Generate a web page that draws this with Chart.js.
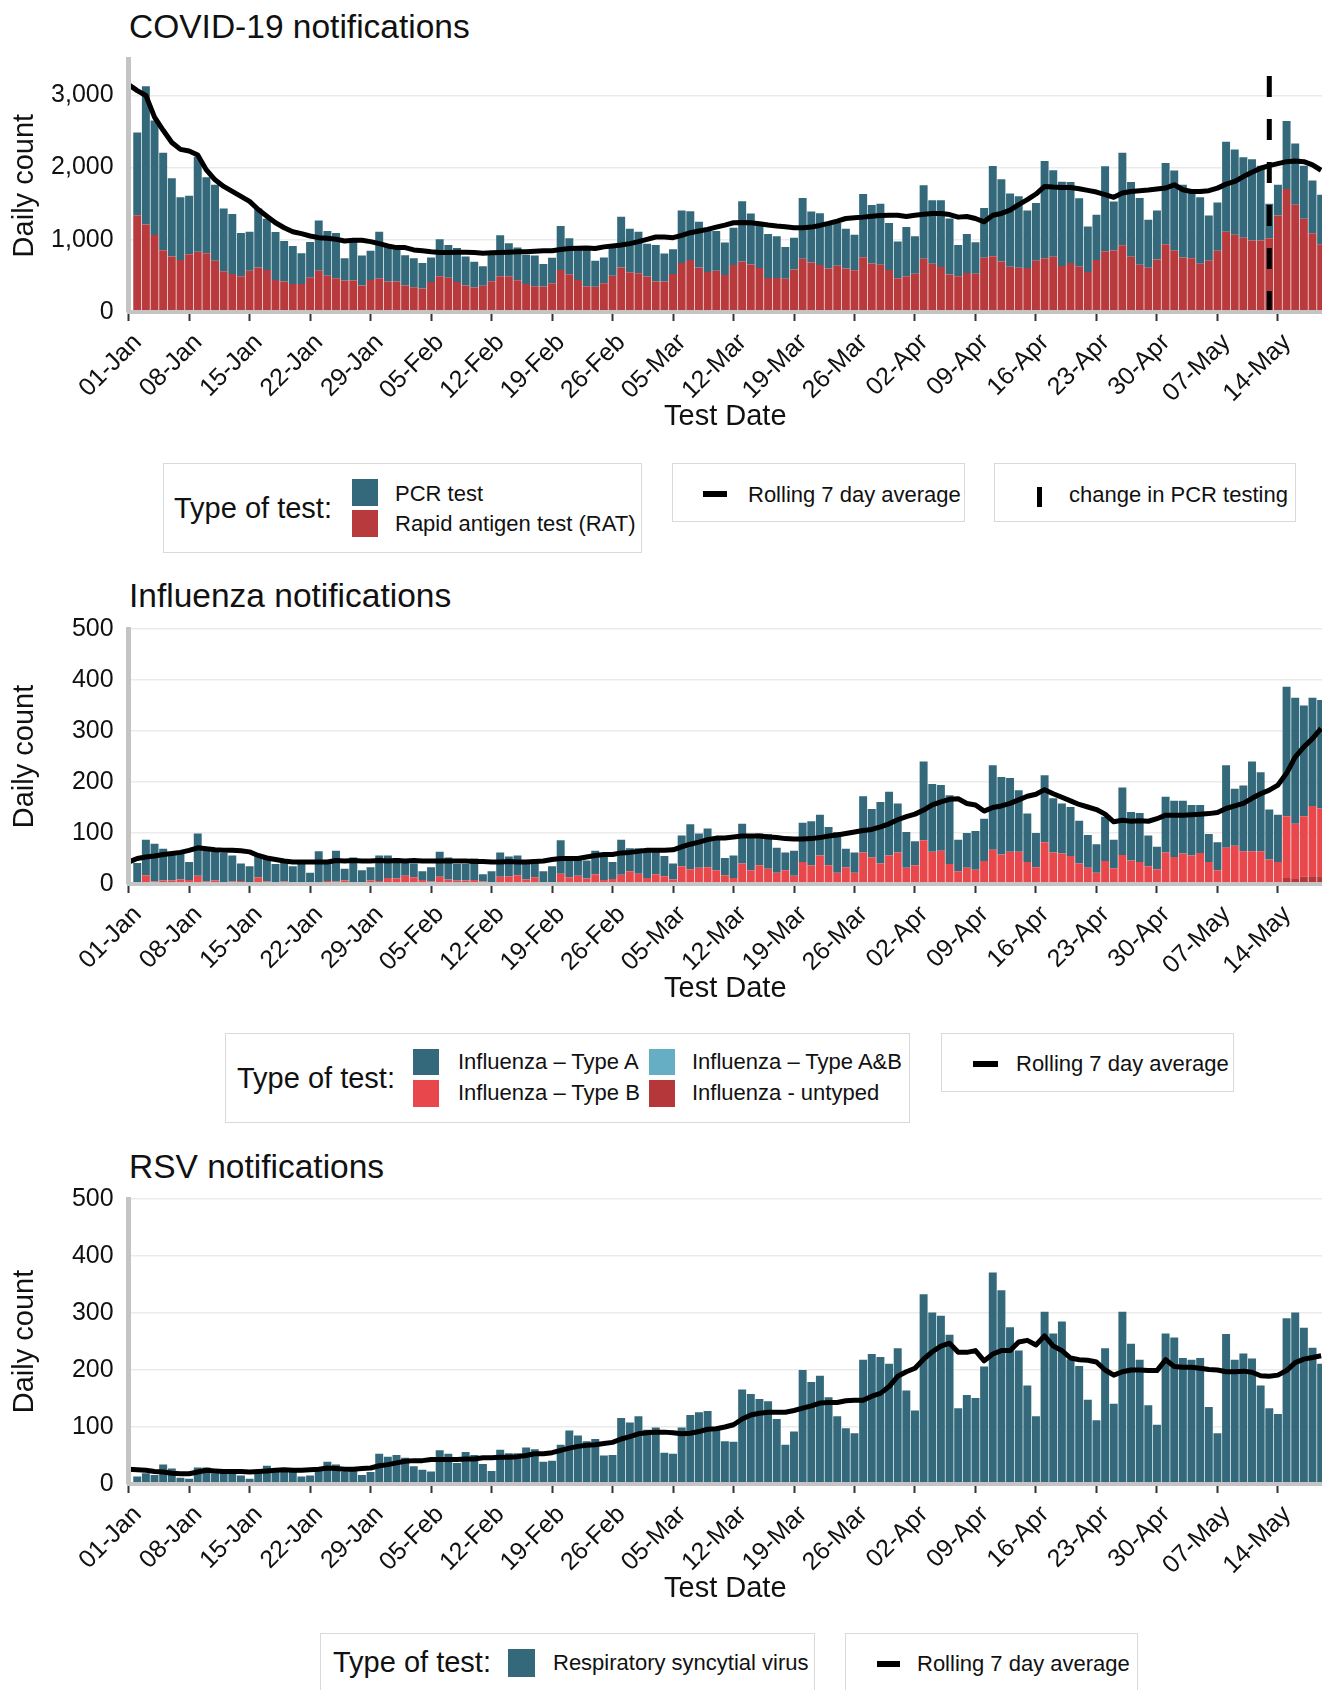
<!DOCTYPE html>
<html>
<head>
<meta charset="utf-8">
<script src="https://cdn.jsdelivr.net/npm/chart.js@4.4.0/dist/chart.umd.min.js"></script>
<style>
  body { margin: 0; width: 1322px; height: 1690px; overflow: hidden; background: #fff; position: relative;
         font-family: "Liberation Sans", Arial, sans-serif; color: #111; }
  canvas { position: absolute; left: 0; }
  .title { position: absolute; left: 129px; font-size: 33.5px; line-height: 1; white-space: nowrap; }
  .box { position: absolute; box-sizing: border-box; border: 1px solid #d9d9d9; background: #fff; }
  .txt { position: absolute; font-size: 22px; line-height: 1; white-space: nowrap; transform: translateY(-50%); }
  .big { font-size: 29px; }
  .sw { position: absolute; }
</style>
</head>
<body>

<div class="title" style="top:9.9px">COVID-19 notifications</div>
<canvas id="covidChart" width="1322" height="440" style="top:0px"></canvas>

<div class="box" style="left:163px;top:463px;width:479px;height:90px"></div>
<div class="txt big" style="left:174px;top:508px">Type of test:</div>
<div class="sw" style="left:352px;top:479px;width:26px;height:27px;background:#33697a"></div>
<div class="sw" style="left:352px;top:509.5px;width:26px;height:27px;background:#b83a3c"></div>
<div class="txt" style="left:395px;top:493.7px">PCR test</div>
<div class="txt" style="left:395px;top:523.8px">Rapid antigen test (RAT)</div>
<div class="box" style="left:672px;top:463px;width:293px;height:59px"></div>
<div class="sw" style="left:703px;top:491px;width:24px;height:6px;background:#000"></div>
<div class="txt" style="left:748px;top:494.5px">Rolling 7 day average</div>
<div class="box" style="left:994px;top:463px;width:302px;height:59px"></div>
<div class="sw" style="left:1037px;top:487px;width:5px;height:20px;background:#000"></div>
<div class="txt" style="left:1069px;top:494.5px">change in PCR testing</div>

<div class="title" style="top:579.4px">Influenza notifications</div>
<canvas id="fluChart" width="1322" height="442" style="top:570px"></canvas>

<div class="box" style="left:225px;top:1033px;width:685px;height:90px"></div>
<div class="txt big" style="left:237px;top:1077.5px">Type of test:</div>
<div class="sw" style="left:413px;top:1049px;width:26px;height:26px;background:#33697a"></div>
<div class="sw" style="left:413px;top:1080px;width:26px;height:27px;background:#e8474b"></div>
<div class="txt" style="left:458px;top:1062px">Influenza – Type A</div>
<div class="txt" style="left:458px;top:1093px">Influenza – Type B</div>
<div class="sw" style="left:649px;top:1049px;width:26px;height:26px;background:#65aec3"></div>
<div class="sw" style="left:649px;top:1080px;width:26px;height:27px;background:#b5373a"></div>
<div class="txt" style="left:692px;top:1062px">Influenza – Type A&amp;B</div>
<div class="txt" style="left:692px;top:1093px">Influenza - untyped</div>
<div class="box" style="left:941px;top:1033px;width:293px;height:59px"></div>
<div class="sw" style="left:973px;top:1061px;width:25px;height:6px;background:#000"></div>
<div class="txt" style="left:1016px;top:1063.5px">Rolling 7 day average</div>

<div class="title" style="top:1149.9px">RSV notifications</div>
<canvas id="rsvChart" width="1322" height="472" style="top:1140px"></canvas>

<div class="box" style="left:320px;top:1633px;width:495px;height:59px"></div>
<div class="txt big" style="left:333px;top:1662px">Type of test:</div>
<div class="sw" style="left:508px;top:1649px;width:27px;height:28px;background:#33697a"></div>
<div class="txt" style="left:553px;top:1663px">Respiratory syncytial virus</div>
<div class="box" style="left:845px;top:1633px;width:293px;height:59px"></div>
<div class="sw" style="left:877px;top:1661px;width:23px;height:6px;background:#000"></div>
<div class="txt" style="left:917px;top:1663.5px">Rolling 7 day average</div>

<script>
// weekly tick labels on the date axis (days counted from 01-Jan)
const tickLabels = ['01-Jan', '08-Jan', '15-Jan', '22-Jan', '29-Jan', '05-Feb', '12-Feb', '19-Feb', '26-Feb',
  '05-Mar', '12-Mar', '19-Mar', '26-Mar', '02-Apr', '09-Apr', '16-Apr', '23-Apr', '30-Apr', '07-May', '14-May'];
const tickDays = tickLabels.map((_, i) => i * 7);
const lastVisibleDay = 138.1;   // the picture is cut just after 19-May
const pcrChangeDay = 132;       // 13-May, change in PCR testing

const covidYTicks = [0, 1000, 2000, 3000];
const countYTicks = [0, 100, 200, 300, 400, 500];

// daily bars start on 02-Jan (day 1); rolling averages start on 01-Jan (day 0)
const covidRAT = [
  1341, 1213, 1066, 856, 769, 719, 801, 833, 815, 709,
  563, 526, 494, 572, 618, 581, 444, 421, 389, 389,
  476, 572, 503, 467, 435, 435, 366, 444, 467, 421,
  421, 366, 343, 325, 416, 494, 476, 416, 366, 339,
  362, 426, 494, 494, 439, 389, 357, 352, 398, 581,
  522, 444, 357, 348, 398, 503, 618, 549, 535, 490,
  421, 421, 526, 677, 719, 618, 554, 572, 513, 650,
  700, 659, 609, 471, 471, 462, 590, 737, 686, 650,
  604, 641, 604, 577, 760, 673, 654, 581, 467, 494,
  530, 738, 669, 623, 521, 494, 540, 531, 752, 771,
  701, 627, 613, 609, 709, 746, 764, 636, 677, 627,
  554, 719, 842, 851, 924, 764, 654, 613, 728, 938,
  856, 755, 746, 668, 709, 847, 1112, 1071, 1030, 989,
  989, 1021, 1336, 1703, 1487, 1291, 1089, 938];
const covidPCR = [
  1144, 1913, 1588, 1350, 1085, 869, 810, 1318, 1052, 1053,
  869, 833, 600, 540, 814, 710, 664, 563, 526, 426,
  494, 696, 618, 627, 311, 549, 417, 403, 645, 494,
  449, 421, 403, 352, 339, 513, 453, 472, 403, 357,
  270, 366, 568, 458, 453, 403, 426, 312, 353, 609,
  499, 471, 535, 361, 357, 389, 700, 604, 577, 457,
  508, 389, 344, 728, 677, 631, 613, 549, 448, 517,
  833, 705, 604, 609, 577, 440, 440, 842, 705, 718,
  609, 595, 549, 494, 874, 810, 847, 650, 508, 682,
  520, 1019, 878, 924, 774, 435, 540, 435, 690, 1252,
  1139, 1016, 989, 796, 801, 1346, 1199, 1167, 1122, 947,
  631, 627, 1176, 678, 1282, 1035, 925, 664, 677, 1126,
  1103, 1007, 902, 920, 627, 668, 1245, 1181, 1112, 1125,
  1038, 480, 426, 942, 847, 736, 733, 687];
const covidAvg = [
  3149, 3066, 2998, 2700, 2517, 2348, 2252, 2229, 2174, 1968,
  1831, 1739, 1670, 1602, 1533, 1419, 1327, 1236, 1167, 1112,
  1085, 1053, 1030, 1021, 1007, 984, 993, 993, 975, 947,
  915, 892, 892, 860, 847, 833, 824, 824, 828, 828,
  824, 815, 819, 824, 828, 833, 833, 842, 847, 847,
  865, 879, 883, 888, 879, 902, 915, 929, 947, 975,
  1007, 1039, 1039, 1030, 1062, 1098, 1121, 1144, 1176, 1204,
  1236, 1240, 1236, 1222, 1204, 1190, 1181, 1167, 1167, 1176,
  1199, 1227, 1259, 1295, 1304, 1314, 1327, 1336, 1341, 1341,
  1323, 1341, 1355, 1364, 1364, 1350, 1314, 1323, 1295, 1249,
  1341, 1365, 1410, 1488, 1556, 1634, 1739, 1730, 1725, 1725,
  1707, 1685, 1661, 1625, 1588, 1648, 1670, 1680, 1690, 1703,
  1716, 1762, 1693, 1670, 1670, 1680, 1716, 1771, 1808, 1876,
  1936, 1991, 2027, 2055, 2082, 2092, 2082, 2037, 1963];

const fluTypeA = [
  39, 70, 74, 62, 53, 51, 35, 83, 61, 56,
  57, 51, 34, 32, 43, 47, 36, 38, 32, 37,
  20, 61, 37, 60, 23, 49, 23, 26, 50, 44,
  40, 33, 27, 17, 28, 49, 43, 32, 32, 42,
  14, 22, 48, 39, 39, 34, 35, 22, 31, 66,
  41, 38, 35, 46, 50, 33, 69, 45, 50, 51,
  46, 40, 31, 60, 88, 67, 76, 65, 34, 44,
  78, 65, 62, 68, 49, 35, 49, 77, 86, 80,
  75, 80, 36, 40, 110, 95, 121, 125, 96, 70,
  47, 154, 133, 129, 135, 62, 68, 76, 83, 166,
  152, 145, 121, 95, 67, 131, 106, 98, 96, 84,
  64, 56, 87, 56, 132, 95, 96, 60, 44, 109,
  110, 103, 99, 94, 55, 55, 162, 112, 129, 176,
  155, 98, 93, 254, 247, 217, 212, 213];
const fluTypeB = [
  2, 17, 5, 7, 7, 9, 8, 16, 5, 7,
  4, 5, 6, 3, 13, 5, 3, 5, 3, 2,
  2, 3, 6, 5, 7, 3, 4, 7, 6, 12,
  11, 16, 13, 8, 5, 14, 9, 7, 7, 8,
  5, 3, 14, 15, 17, 9, 13, 3, 4, 20,
  13, 16, 11, 19, 8, 10, 18, 25, 20, 12,
  19, 15, 9, 35, 29, 32, 33, 27, 17, 12,
  40, 27, 37, 30, 22, 27, 16, 43, 37, 56,
  37, 22, 33, 22, 62, 52, 40, 56, 62, 32,
  37, 86, 63, 65, 39, 25, 32, 28, 45, 67,
  58, 63, 63, 43, 33, 82, 62, 60, 55, 40,
  32, 19, 45, 31, 57, 46, 43, 35, 29, 62,
  53, 60, 56, 61, 43, 27, 71, 75, 64, 64,
  64, 48, 43, 121, 108, 119, 138, 133];
const fluTypeAB = [];   // no A&B bars visible in the picture
const fluUntyped = [
  0, 0, 0, 0, 0, 0, 0, 0, 0, 0,
  0, 0, 0, 0, 0, 0, 0, 0, 0, 0,
  0, 0, 0, 0, 0, 0, 0, 0, 0, 0,
  0, 0, 0, 0, 0, 0, 0, 0, 0, 0,
  0, 0, 0, 0, 0, 0, 0, 0, 0, 0,
  0, 0, 0, 0, 0, 0, 0, 0, 0, 0,
  0, 0, 0, 0, 0, 0, 0, 0, 0, 0,
  0, 0, 0, 0, 0, 0, 0, 0, 0, 0,
  0, 0, 0, 0, 0, 0, 0, 0, 0, 0,
  0, 0, 0, 0, 0, 0, 0, 0, 0, 0,
  0, 0, 0, 0, 0, 0, 0, 0, 0, 0,
  0, 3, 0, 0, 0, 0, 0, 0, 0, 0,
  0, 0, 0, 0, 0, 0, 0, 0, 0, 0,
  0, 0, 0, 12, 10, 14, 15, 15];
const fluAvg = [
  43, 50, 53, 55, 58, 60, 62, 66, 71, 69,
  67, 66, 66, 65, 63, 56, 51, 48, 45, 43,
  43, 43, 43, 43, 46, 45, 46, 45, 45, 46,
  45, 46, 45, 46, 45, 45, 45, 45, 45, 45,
  44, 44, 43, 43, 44, 43, 43, 44, 45, 48,
  50, 50, 50, 53, 56, 58, 58, 61, 62, 64,
  66, 66, 66, 67, 73, 78, 82, 87, 90, 90,
  92, 94, 94, 94, 92, 91, 89, 88, 88, 89,
  91, 94, 96, 99, 102, 105, 107, 112, 118, 126,
  132, 137, 145, 155, 161, 166, 167, 158, 155, 143,
  150, 153, 158, 165, 172, 176, 185, 177, 170, 163,
  156, 151, 146, 137, 122, 125, 123, 124, 123, 128,
  135, 135, 135, 136, 137, 138, 140, 148, 153, 158,
  168, 177, 184, 194, 217, 249, 269, 285, 305];

const rsvCounts = [
  13, 19, 16, 34, 27, 11, 9, 29, 29, 19,
  25, 25, 15, 9, 19, 32, 22, 22, 24, 13,
  15, 23, 39, 34, 22, 24, 16, 21, 53, 48,
  51, 46, 31, 25, 22, 59, 53, 37, 56, 51,
  35, 23, 60, 54, 54, 64, 61, 39, 41, 69,
  94, 85, 75, 79, 50, 51, 116, 108, 119, 95,
  99, 55, 53, 99, 121, 126, 128, 98, 75, 74,
  166, 158, 149, 145, 114, 69, 92, 200, 179, 190,
  152, 119, 98, 89, 218, 228, 223, 211, 238, 164,
  129, 333, 301, 295, 262, 133, 156, 151, 206, 371,
  340, 275, 234, 173, 119, 302, 264, 285, 219, 207,
  148, 112, 238, 141, 302, 246, 218, 138, 104, 264,
  257, 221, 218, 221, 135, 89, 263, 218, 229, 220,
  173, 133, 123, 291, 301, 274, 239, 211];
const rsvAvg = [
  26, 25, 24, 22, 21, 19, 18, 18, 21, 24,
  23, 22, 22, 22, 21, 22, 23, 24, 25, 24,
  24, 25, 26, 28, 27, 26, 26, 27, 28, 32,
  34, 37, 40, 41, 41, 43, 43, 43, 43, 44,
  44, 46, 46, 47, 47, 48, 50, 53, 53, 55,
  59, 63, 66, 68, 69, 71, 73, 79, 83, 88,
  90, 91, 91, 90, 88, 89, 92, 96, 97, 100,
  104, 114, 121, 124, 126, 126, 126, 129, 133, 137,
  142, 143, 143, 146, 147, 147, 154, 159, 171, 189,
  197, 203, 219, 232, 242, 247, 231, 231, 234, 216,
  228, 234, 234, 249, 252, 244, 260, 242, 234, 221,
  218, 217, 214, 200, 191, 197, 200, 200, 199, 199,
  218, 206, 205, 205, 203, 201, 200, 197, 197, 198,
  196, 190, 189, 191, 199, 213, 219, 222, 225];

Chart.defaults.font.family = '"Liberation Sans", Arial, sans-serif';
Chart.defaults.color = '#111';

const teal = '#33697a';

function bars(label, values, color) {
  return { type: 'bar', label: label, backgroundColor: color, borderWidth: 0,
    barPercentage: 0.92, categoryPercentage: 1,
    data: values.map((v, i) => ({ x: i + 1, y: v })) };
}

function avgLine(values) {
  return { type: 'line', label: 'Rolling 7 day average', stack: 'avg', order: -1,
    borderColor: '#000', borderWidth: 5, pointRadius: 0, tension: 0, borderJoinStyle: 'round',
    data: values.map((v, i) => ({ x: i, y: v })) };
}

function dayLabel(v) {
  const i = tickDays.indexOf(v);
  return i >= 0 ? tickLabels[i] : '';
}

function drawPanel(id, datasets, yMax, yTicks, padTop) {
  new Chart(document.getElementById(id), {
    type: 'bar',
    data: { datasets: datasets },
    options: {
      responsive: false,
      animation: false,
      layout: { padding: { top: padTop, right: 0, bottom: 0, left: 0 } },
      plugins: { legend: { display: false }, tooltip: { enabled: false } },
      scales: {
        x: {
          type: 'linear', stacked: true, min: 0, max: lastVisibleDay, offset: false,
          grid: { offset: false, drawOnChartArea: false, drawTicks: true, tickLength: 9,
                  tickColor: '#333', tickWidth: 2 },
          border: { display: true, color: '#c4c4c4', width: 4, z: 1 },
          afterBuildTicks: s => { s.ticks = tickDays.map(v => ({ value: v })); },
          afterFit: s => { s.height = 128; },
          ticks: { autoSkip: false, minRotation: 45, maxRotation: 45, padding: 7, labelOffset: 9,
                   font: { size: 25 }, callback: v => dayLabel(v) },
          title: { display: true, text: 'Test Date', font: { size: 29 }, padding: { top: 0, bottom: 6 } }
        },
        y: {
          stacked: true, min: 0, max: yMax,
          grid: { color: '#ebebeb', lineWidth: 1.5, drawTicks: false },
          border: { display: true, color: '#c4c4c4', width: 5, z: 1 },
          afterBuildTicks: s => { s.ticks = yTicks.map(v => ({ value: v })); },
          afterFit: s => { s.width = 128.6; },
          ticks: { padding: 15, font: { size: 25 }, callback: v => v.toLocaleString('en-US') },
          title: { display: true, text: 'Daily count', font: { size: 29 }, padding: { top: 8, bottom: 0 } }
        }
      }
    }
  });
}

drawPanel('covidChart', [
  { type: 'line', label: 'change in PCR testing', stack: 'vline', order: -2,
    borderColor: '#000', borderWidth: 5, borderDash: [21, 22], pointRadius: 0,
    data: [{ x: pcrChangeDay, y: 0 }, { x: pcrChangeDay, y: 3500 }] },
  avgLine(covidAvg),
  bars('Rapid antigen test (RAT)', covidRAT, '#b83a3c'),
  bars('PCR test', covidPCR, teal)
], 3500, covidYTicks, 59.3);

drawPanel('fluChart', [
  avgLine(fluAvg),
  bars('Influenza - untyped', fluUntyped, '#b5373a'),
  bars('Influenza – Type A&B', fluTypeAB, '#65aec3'),
  bars('Influenza – Type B', fluTypeB, '#e8474b'),
  bars('Influenza – Type A', fluTypeA, teal)
], 500, countYTicks, 59);

drawPanel('rsvChart', [
  avgLine(rsvAvg),
  bars('Respiratory syncytial virus', rsvCounts, teal)
], 500, countYTicks, 59);
</script>
</body>
</html>
